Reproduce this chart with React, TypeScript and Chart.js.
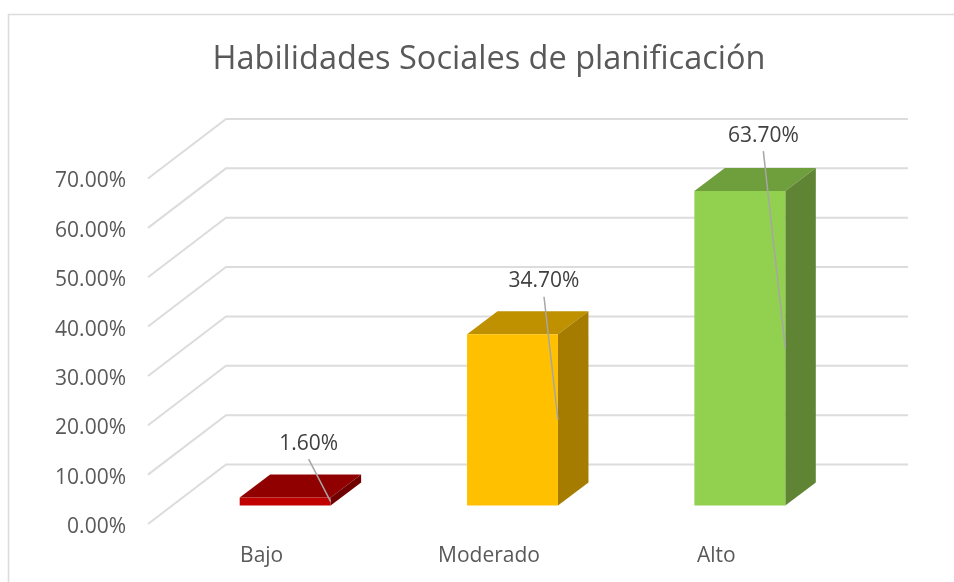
import React, { useEffect, useRef } from "react";
import { Chart, registerables } from "chart.js";

Chart.register(...registerables);

const chartTitle = "Habilidades Sociales de planificación";
const categories = ["Bajo", "Moderado", "Alto"];
const values = [1.6, 34.7, 63.7];
const frontColors = ["#c00000", "#ffc000", "#92d050"];
const topColors = ["#900000", "#bf9000", "#6f9e3d"];
const sideColors = ["#700000", "#a67c00", "#5f8433"];
const labelOffsetsX = [23.5, 31.5, 23.5];
const labelOffsetsY = [-54, -53, -55.5];

const FONT = '"Open Sans", sans-serif';
const GRID = "#dcdcdc";
// oblique projection of the floor
const WALL_DX = 78;
const WALL_DY = -59.5;
const BAR_SHIFT_X = 23.5;
const BAR_SHIFT_Y = -18.5;
const DEPTH_DX = 30.5;
const DEPTH_DY = -23;
const Y_LABEL_SHIFT = 3;

const poly = (ctx: CanvasRenderingContext2D, pts: number[][], fill: string) => {
  ctx.beginPath();
  pts.forEach(([x, y], i) => (i ? ctx.lineTo(x, y) : ctx.moveTo(x, y)));
  ctx.closePath();
  ctx.fillStyle = fill;
  ctx.fill();
};

const framePlugin = {
  id: "frame3d",
  beforeDraw(chart: any) {
    const { ctx, width, height } = chart;
    ctx.save();
    ctx.fillStyle = "#ffffff";
    ctx.fillRect(0, 0, width, height);
    ctx.strokeStyle = GRID;
    ctx.lineWidth = 1.6;
    ctx.beginPath();
    ctx.moveTo(8.5, height + 2);
    ctx.lineTo(8.5, 14.5);
    ctx.lineTo(width + 2, 14.5);
    ctx.stroke();
    ctx.restore();
    // nudge the value-axis labels down to sit where the reference has them
    chart.scales.y.getLabelItems().forEach((item: any) => {
      if (!item.__shifted) {
        item.textOffset += Y_LABEL_SHIFT;
        item.__shifted = true;
      }
    });
  },
  beforeDatasetsDraw(chart: any) {
    const { ctx, scales, chartArea } = chart;
    const yS = scales.y;
    ctx.save();
    ctx.strokeStyle = GRID;
    ctx.lineWidth = 2;
    yS.ticks.forEach((t: any) => {
      const y = yS.getPixelForValue(t.value);
      ctx.beginPath();
      ctx.moveTo(chartArea.left, y);
      ctx.lineTo(chartArea.left + WALL_DX, y + WALL_DY);
      ctx.lineTo(chartArea.right + WALL_DX, y + WALL_DY);
      ctx.stroke();
    });
    const meta = chart.getDatasetMeta(0);
    meta.data.forEach((bar: any, i: number) => {
      const l = bar.x - bar.width / 2 + BAR_SHIFT_X;
      const r = bar.x + bar.width / 2 + BAR_SHIFT_X;
      const t = bar.y + BAR_SHIFT_Y;
      const b = bar.base + BAR_SHIFT_Y;
      poly(ctx, [[l, t], [r, t], [r + DEPTH_DX, t + DEPTH_DY], [l + DEPTH_DX, t + DEPTH_DY]], topColors[i]);
      poly(ctx, [[r, t], [r + DEPTH_DX, t + DEPTH_DY], [r + DEPTH_DX, b + DEPTH_DY], [r, b]], sideColors[i]);
    });
    ctx.restore();
    ctx.save();
    ctx.translate(BAR_SHIFT_X, BAR_SHIFT_Y);
  },
  afterDatasetsDraw(chart: any) {
    const { ctx } = chart;
    ctx.restore();
    ctx.save();
    const meta = chart.getDatasetMeta(0);
    ctx.font = `21px ${FONT}`;
    ctx.textAlign = "center";
    ctx.textBaseline = "middle";
    meta.data.forEach((bar: any, i: number) => {
      const cx = bar.x + BAR_SHIFT_X;
      const top = bar.y + BAR_SHIFT_Y;
      const lx = cx + labelOffsetsX[i];
      const ly = top + labelOffsetsY[i];
      ctx.strokeStyle = "#a6a6a6";
      ctx.lineWidth = 1.5;
      ctx.beginPath();
      ctx.moveTo(lx, ly + 15.5);
      ctx.lineTo(cx + bar.width / 2, (top + bar.base + BAR_SHIFT_Y) / 2);
      ctx.stroke();
      ctx.fillStyle = "#404040";
      ctx.fillText(`${values[i].toFixed(2)}%`, lx, ly);
    });
    ctx.restore();
  },
};

export default function App() {
  const ref = useRef<HTMLCanvasElement>(null);
  useEffect(() => {
    const chart = new Chart(ref.current!, {
      type: "bar",
      data: {
        labels: categories,
        datasets: [
          {
            data: values,
            backgroundColor: frontColors,
            borderWidth: 0,
            barPercentage: 0.4,
            categoryPercentage: 1,
            clip: false,
          } as any,
        ],
      },
      options: {
        responsive: false,
        animation: false,
        layout: { padding: { left: 0, right: 124, top: 0, bottom: 0 } },
        plugins: {
          legend: { display: false },
          tooltip: { enabled: false },
          title: {
            display: true,
            text: chartTitle,
            fullSize: false,
            color: "#595959",
            font: { family: FONT, size: 32.5, weight: "normal", lineHeight: 1.2 },
            padding: { top: 40.5, bottom: 99 },
          },
        },
        scales: {
          x: {
            grid: { display: false, drawTicks: false },
            border: { display: false },
            ticks: {
              color: "#595959",
              font: { family: FONT, size: 21 },
              padding: 19,
              maxRotation: 0,
            },
            afterFit: (s: any) => {
              s.height = 58;
            },
          },
          y: {
            min: 0,
            max: 70,
            grid: { display: false, drawTicks: false },
            border: { display: false },
            ticks: {
              stepSize: 10,
              color: "#595959",
              font: { family: FONT, size: 21 },
              padding: 22,
              callback: (v: any) => `${Number(v).toFixed(2)}%`,
            },
            afterFit: (s: any) => {
              s.width = 148;
            },
          },
        },
      },
      plugins: [framePlugin],
    } as any);
    return () => chart.destroy();
  }, []);
  return (
    <canvas
      ref={ref}
      width={954}
      height={582}
      style={{ position: "absolute", left: 0, top: 0, width: 954, height: 582 }}
    />
  );
}
